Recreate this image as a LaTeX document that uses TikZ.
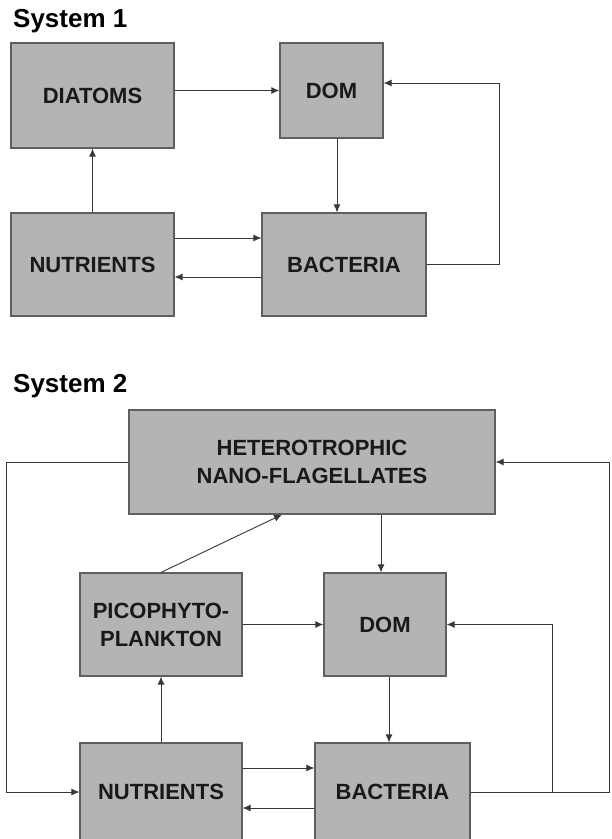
\documentclass[tikz,border=0pt]{standalone}
\usepackage{fontspec}
\setmainfont{Liberation Sans}
\usetikzlibrary{arrows.meta, positioning, calc}
\definecolor{boxgray}{RGB}{180,180,180}
\definecolor{edgegray}{RGB}{95,95,95}
\definecolor{linegray}{RGB}{55,55,55}

\tikzset{
  box/.style={draw=edgegray, line width=1.2pt, fill=boxgray, inner sep=0pt, align=center, text=black!90, font=\bfseries\fontsize{22}{28}\selectfont},
  flow/.style={draw=linegray, line width=0.9pt, -{Latex[length=8pt,width=7pt]}},
  link/.style={draw=linegray, line width=0.9pt},
  title/.style={anchor=base west, inner sep=0pt, font=\bfseries\fontsize{26}{30}\selectfont},
}

\begin{document}
\begin{tikzpicture}[x=1pt, y=-1pt]
\useasboundingbox (0,0) rectangle (612,839);
\clip (0,0) rectangle (612,839);

%% System 1
\node[title] (sys1) at (13,27) {System 1};
\node[box, minimum width=163, minimum height=105] (diatoms) at (92.5,95.5) {DIATOMS};
\node[box, minimum width=103, minimum height=95] (dom1) at (331.5,90.5) {DOM};
\node[box, minimum width=163, minimum height=103] (nutr1) at (92.5,264.5) {NUTRIENTS};
\node[box, minimum width=164, minimum height=103] (bact1) at (344,264.5) {BACTERIA};

\coordinate (d1x) at (337,0);
\coordinate (fb1) at (499,83);

\draw[flow] (diatoms.east |- dom1.west) -- (dom1.west);
\draw[flow] (d1x |- dom1.south) -- (d1x |- bact1.north);
\draw[flow] (nutr1.north) -- (diatoms.south);
\draw[flow] ([yshift=26.5pt]nutr1.east) -- ([yshift=26.5pt]nutr1.east -| bact1.west);
\draw[flow] ([yshift=-12.5pt]bact1.west) -- ([yshift=-12.5pt]bact1.west -| nutr1.east);
\draw[flow] (bact1.east) -| (fb1) -- (fb1 -| dom1.east);

%% System 2
\node[title] (sys2) at (13,392) {System 2};
\node[box, minimum width=366, minimum height=104] (hnf) at (312,462) {HETEROTROPHIC\\NANO-FLAGELLATES};
\node[box, minimum width=162, minimum height=103] (pico) at (161,624.5) {PICOPHYTO-\\PLANKTON};
\node[box, minimum width=122, minimum height=103] (dom2) at (385,624.5) {DOM};
\node[box, minimum width=162, minimum height=98] (nutr2) at (161,792) {NUTRIENTS};
\node[box, minimum width=155, minimum height=98] (bact2) at (392.5,792) {BACTERIA};

\coordinate (h2x) at (381,0);
\coordinate (d2x) at (389,0);
\coordinate (lfb) at (6,792);
\coordinate (rfb) at (609,792);
\coordinate (rbr) at (552,792);

\draw[flow] (pico.north) -- ([xshift=-30pt]hnf.south);
\draw[flow] (h2x |- hnf.south) -- (h2x |- dom2.north);
\draw[flow] (pico.east) -- (dom2.west);
\draw[flow] (d2x |- dom2.south) -- (d2x |- bact2.north);
\draw[flow] (nutr2.north) -- (pico.south);
\draw[flow] ([yshift=24pt]nutr2.east) -- ([yshift=24pt]nutr2.east -| bact2.west);
\draw[flow] ([yshift=-16pt]bact2.west) -- ([yshift=-16pt]bact2.west -| nutr2.east);
\draw[flow] (hnf.west) -| (lfb) -- (nutr2.west);
\draw[flow] (bact2.east) -- (rfb) |- (hnf.east);
\draw[flow] (rbr) |- (dom2.east);
\end{tikzpicture}
\end{document}
